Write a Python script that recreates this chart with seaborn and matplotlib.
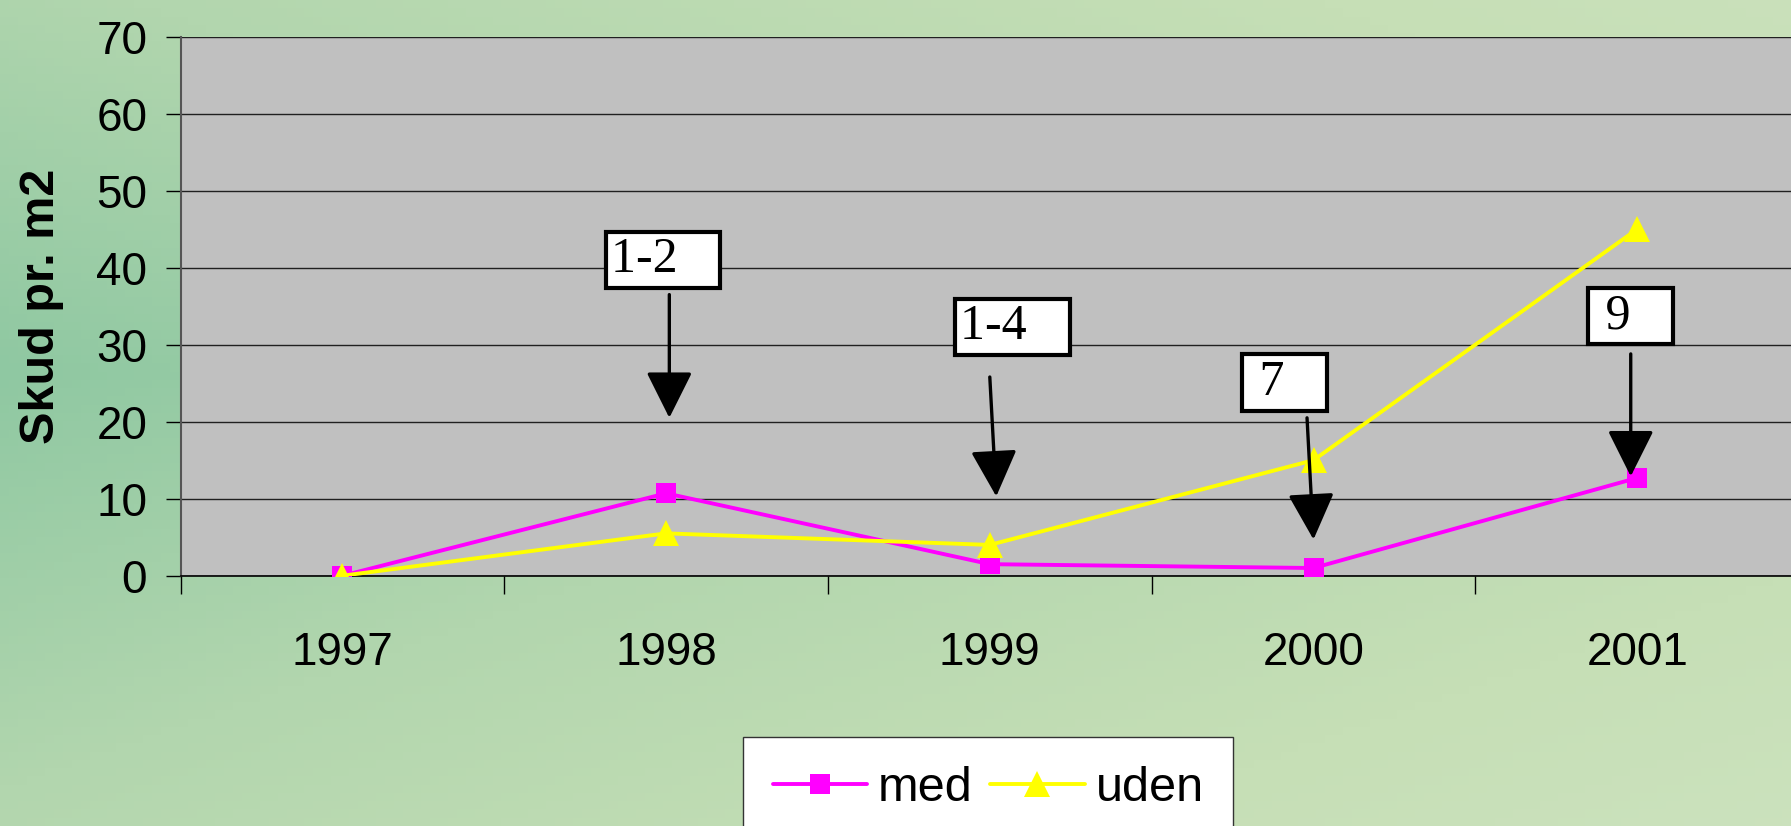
import numpy as np
import pandas as pd
import matplotlib
matplotlib.use("Agg")
import matplotlib.pyplot as plt
import seaborn as sns
from matplotlib.colors import LinearSegmentedColormap

years = ["1997", "1998", "1999", "2000", "2001"]
med = [0, 10.7, 1.5, 1.0, 12.7]
uden = [0, 5.5, 4.0, 15.0, 45.0]

# annotation boxes: label, box centre (x, y), arrow tail, arrow head
notes = ["1-2   ", "1-4   ", " 7   ", " 9   "]
box_xy = [(0.99, 41.0), (2.07, 32.3), (2.91, 25.1), (3.98, 33.7)]
arrow_from = [(1.01, 36.5), (2.0, 25.8), (2.98, 20.5), (3.98, 28.8)]
arrow_to = [(1.01, 20.5), (2.02, 10.3), (3.0, 4.7), (3.98, 12.9)]

df = pd.DataFrame({
    "year": years * 2,
    "value": med + uden,
    "series": ["med"] * len(years) + ["uden"] * len(years),
})

sns.set_theme(style="white")
plt.rcParams["font.family"] = ["Liberation Sans", "DejaVu Sans"]
plt.rcParams["text.color"] = "black"
plt.rcParams["xtick.color"] = "black"
plt.rcParams["ytick.color"] = "black"
plt.rcParams["axes.labelcolor"] = "black"

fig = plt.figure(figsize=(17.91, 8.26), dpi=100)

# textured green background approximated by a soft gradient
bg = fig.add_axes([0, 0, 1, 1], zorder=-10)
cmap = LinearSegmentedColormap.from_list(
    "paper", ["#8fc8a2", "#b2d6ae", "#c6dfb6", "#cfe4c2"])
gx, gy = np.meshgrid(np.linspace(0, 1, 200), np.linspace(0, 1, 100))
grad = 0.55 * gx + 0.45 * np.abs(gy - 0.45) * 1.6
bg.imshow(grad, cmap=cmap, aspect="auto", extent=[0, 1, 0, 1], vmin=0, vmax=1.1)
bg.axis("off")

ax = fig.add_axes([0.1008, 0.303, 0.9037, 0.6527])
ax.set_facecolor("#c0c0c0")

sns.lineplot(data=df, x="year", y="value", hue="series", style="series",
             markers={"med": "s", "uden": "^"}, dashes=False,
             palette={"med": "#ff00ff", "uden": "#ffff00"},
             markersize=15, linewidth=2.8, markeredgewidth=0, ax=ax, zorder=3)
for ln in ax.lines:
    if ln.get_marker() == "^":
        ln.set_markersize(19)

ax.set_xlim(-0.5, 4.5)
ax.set_ylim(0, 70)
ax.set_yticks(range(0, 71, 10))
ax.yaxis.grid(True, color="#202020", linewidth=1.0)
ax.set_axisbelow(True)

ax.set_xticks(np.arange(-0.5, 4.6, 1), minor=True)
ax.tick_params(axis="x", which="major", length=0, pad=40, labelsize=33)
ax.tick_params(axis="x", which="minor", length=13, width=1, color="black",
               direction="out", bottom=True)
ax.tick_params(axis="y", length=11, width=1, color="black", direction="out",
               left=True, pad=13, labelsize=33)

for s in ["top", "right"]:
    ax.spines[s].set_visible(False)
ax.spines["left"].set_color("#555555")
ax.spines["left"].set_linewidth(1.5)
ax.spines["bottom"].set_color("black")
ax.spines["bottom"].set_linewidth(1.2)

ax.set_xlabel("")
ax.set_ylabel("Skud pr. m2", fontsize=35, fontweight="bold")
ax.yaxis.set_label_coords(-0.072, 0.5)

for label, (bx, by), tail, head in zip(notes, box_xy, arrow_from, arrow_to):
    ax.text(bx, by, label, ha="center", va="center", fontsize=36,
            family="Liberation Serif", zorder=5,
            bbox=dict(boxstyle="square,pad=0.1", fc="white", ec="black", lw=3))
    ax.annotate("", xy=head, xytext=tail, zorder=6,
                arrowprops=dict(arrowstyle="-|>,head_length=0.8,head_width=0.4",
                                mutation_scale=36, lw=2.4, color="black",
                                shrinkA=0, shrinkB=0))

handles, labels = ax.get_legend_handles_labels()
ax.legend(handles, labels, loc="upper center", bbox_to_anchor=(0.5517, 0.1077),
          bbox_transform=fig.transFigure, ncol=2, fontsize=35, frameon=True,
          fancybox=False, edgecolor="#333333", facecolor="white", framealpha=1,
          handlelength=1.95, columnspacing=0.35, handletextpad=0.22,
          borderpad=0.6, borderaxespad=0)

fig.savefig("out.png", dpi=100)
